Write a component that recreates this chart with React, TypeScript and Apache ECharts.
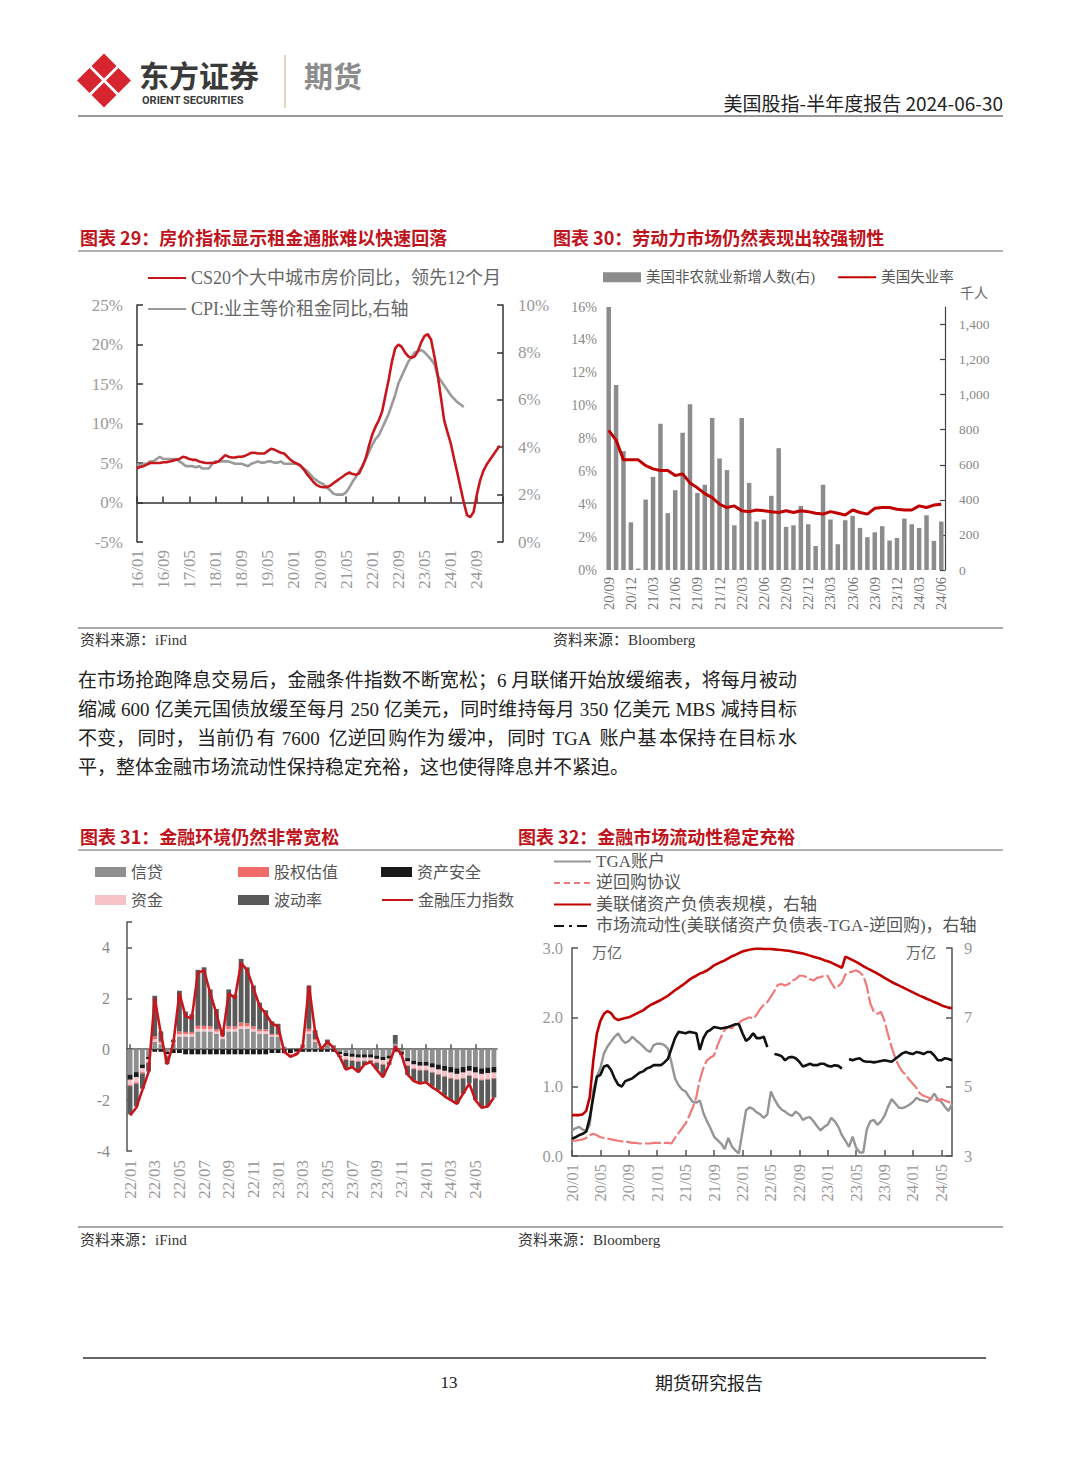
import React, { useEffect, useRef } from "react";
import * as echarts from "echarts";

const SERIF = "'Liberation Serif', 'Noto Sans CJK SC', serif";
const SANS = "'Noto Sans CJK SC', 'Noto Sans', sans-serif";

function monthLabels(startY: number, startM: number, count: number, perMonth = 1): string[] {
  const out: string[] = [];
  for (let k = 0; k < count; k++) {
    const total = startM - 1 + Math.floor(k / perMonth);
    const y = startY + Math.floor(total / 12);
    const m = (total % 12) + 1;
    out.push(`${String(y).slice(2)}/${String(m).padStart(2, "0")}`);
  }
  return out;
}

// ---------- Chart 29 ----------
const months29 = monthLabels(2016, 1, 113);
const N29A = "CS20个大中城市房价同比，领先12个月";
const N29B = "CPI:业主等价租金同比,右轴";
const cs20Lead = [
  4.3, 4.5, 4.6, 4.8, 5.0, 5.0, 5.0, 5.0, 5.1, 5.1,
  5.2, 5.3, 5.4, 5.5, 5.8, 5.7, 5.5, 5.4, 5.4, 5.2,
  5.1, 5.0, 5.0, 5.0, 5.05, 5.2, 5.6, 6.0, 5.8, 5.7,
  5.7, 5.8, 5.8, 5.9, 6.1, 6.3, 6.3, 6.2, 6.2, 6.2,
  6.5, 6.8, 6.7, 6.5, 6.3, 6.2, 5.8, 5.4, 5.1, 4.9,
  4.7, 4.2, 3.6, 3.1, 2.6, 2.2, 2.0, 1.95, 1.95, 2.1,
  2.4, 2.7, 3.0, 3.3, 3.6, 3.8, 3.6, 3.5, 3.7, 4.6,
  5.6, 7.2, 8.6, 9.6, 10.4, 11.5, 13.5, 15.5, 17.8, 19.5,
  20.0, 19.7, 19.0, 18.5, 18.3, 18.5, 19.2, 20.3, 21.1, 21.3,
  20.6, 18.5, 16.2, 13.3, 10.4, 8.9, 7.5, 5.6, 3.8, 1.9,
  0.0, -1.6, -1.85, -1.2, 1.0, 2.8, 4.0, 4.8, 5.4, 6.0,
  6.6, 7.2,
];
const oerCpi = [
  3.3, 3.2, 3.3, 3.3, 3.4, 3.4, 3.5, 3.6, 3.5, 3.5,
  3.5, 3.5, 3.5, 3.4, 3.3, 3.2, 3.2, 3.2, 3.15, 3.2,
  3.1, 3.1, 3.1, 3.3, 3.4, 3.4, 3.4, 3.4, 3.4, 3.35,
  3.3, 3.3, 3.3, 3.25, 3.2, 3.3, 3.35, 3.4, 3.35, 3.35,
  3.4, 3.4, 3.35, 3.35, 3.4, 3.3, 3.3, 3.3, 3.3, 3.3,
  3.2, 3.1, 3.0, 2.85, 2.7, 2.6, 2.5, 2.45, 2.3, 2.2,
  2.05, 2.0, 2.0, 2.0, 2.1, 2.3, 2.55, 2.75, 3.0, 3.2,
  3.5, 3.8, 4.1, 4.35, 4.5, 4.8, 5.1, 5.4, 5.8, 6.2,
  6.7, 7.0, 7.3, 7.6, 7.8, 8.0, 8.05, 8.1, 8.0, 7.85,
  7.7, 7.5, 7.0, 6.8, 6.6, 6.4, 6.2, 6.05, 5.9, 5.8,
  5.7,
];

// ---------- Chart 30 ----------
const months30 = monthLabels(2020, 9, 46);
const N30A = "美国非农就业新增人数(右)";
const N30B = "美国失业率";
const nfpAdds = [
  1501, 1055, 678, 272, 8, 402, 531, 834, 324, 455,
  783, 945, 440, 486, 867, 636, 570, 255, 867, 497,
  276, 288, 423, 695, 246, 255, 366, 261, 137, 486,
  288, 147, 284, 309, 240, 187, 215, 250, 168, 183,
  293, 261, 240, 312, 166, 276,
];
const unemployment = [
  8.5, 7.9, 6.7, 6.7, 6.7, 6.35, 6.15, 6.05, 6.05, 5.75,
  5.85, 5.3, 5.0, 4.65, 4.4, 4.0, 3.8, 3.9, 3.6, 3.55,
  3.65, 3.6, 3.55, 3.5, 3.6, 3.5, 3.6, 3.55, 3.45, 3.4,
  3.55, 3.45, 3.35, 3.65, 3.5, 3.4, 3.75, 3.8, 3.8, 3.7,
  3.65, 3.65, 3.9, 3.8, 3.95, 4.0,
];

// ---------- Chart 31 ----------
const halfMonths31 = monthLabels(2022, 1, 60, 2);
const fciCredit = [
  -1.0, -0.9, -0.6, -0.3, 0.3, 0.2, -0.1, 0.2, 0.5, 0.5,
  0.5, 0.7, 0.7, 0.7, 0.6, 0.4, 0.7, 0.7, 0.8, 0.8,
  0.7, 0.6, 0.6, 0.5, 0.5, 0.1, 0.0, 0.0, 0.1, 0.6,
  0.3, 0.1, 0.2, 0.1, -0.1, -0.15, -0.17, -0.2, -0.2, -0.2,
  -0.25, -0.3, -0.25, 0.2, -0.1, -0.35, -0.45, -0.5, -0.5, -0.55,
  -0.6, -0.65, -0.7, -0.75, -0.7, -0.65, -0.7, -0.75, -0.72, -0.7,
];
const fciEquity = [
  -0.05, -0.05, -0.05, -0.03, 0.1, 0.05, -0.03, 0.03, 0.1, 0.08,
  0.08, 0.12, 0.12, 0.1, 0.08, 0.03, 0.1, 0.1, 0.15, 0.12,
  0.1, 0.08, 0.08, 0.05, 0.05, 0.0, -0.03, 0.0, 0.03, 0.1,
  0.05, 0.0, 0.03, 0.0, -0.01, -0.03, -0.03, -0.03, -0.02, -0.02,
  -0.03, -0.03, -0.02, 0.01, 0.0, -0.03, -0.03, -0.03, -0.03, -0.03,
  -0.03, -0.03, -0.03, -0.03, -0.03, -0.02, -0.03, -0.03, -0.03, -0.03,
];
const fciSafe = [
  -0.2, -0.2, -0.15, -0.1, -0.1, -0.1, -0.1, -0.15, -0.15, -0.2,
  -0.2, -0.2, -0.2, -0.2, -0.2, -0.2, -0.2, -0.2, -0.2, -0.2,
  -0.2, -0.2, -0.2, -0.15, -0.15, -0.15, -0.15, -0.1, -0.1, -0.1,
  -0.1, -0.1, -0.1, -0.1, -0.1, -0.12, -0.13, -0.13, -0.13, -0.13,
  -0.13, -0.13, -0.12, -0.1, -0.12, -0.13, -0.15, -0.15, -0.15, -0.17,
  -0.2, -0.2, -0.22, -0.22, -0.22, -0.2, -0.22, -0.22, -0.22, -0.22,
];
const fciFunding = [
  -0.2, -0.2, -0.15, -0.1, 0.1, 0.05, -0.05, 0.05, 0.1, 0.1,
  0.1, 0.1, 0.1, 0.1, 0.1, 0.1, 0.1, 0.1, 0.1, 0.1,
  0.1, 0.1, 0.1, 0.05, 0.05, -0.05, -0.05, -0.05, 0.0, 0.1,
  0.05, 0.0, 0.0, 0.0, -0.05, -0.12, -0.13, -0.13, -0.12, -0.1,
  -0.13, -0.15, -0.12, -0.05, -0.08, -0.15, -0.15, -0.15, -0.15, -0.17,
  -0.17, -0.2, -0.2, -0.2, -0.2, -0.17, -0.2, -0.22, -0.22, -0.2,
];
const fciVol = [
  -1.1, -0.9, -0.6, -0.35, 1.6, 0.4, -0.3, 0.1, 1.6, 0.8,
  0.7, 2.2, 2.3, 1.45, 0.8, 0.2, 1.45, 1.25, 2.5, 2.2,
  1.6, 1.05, 0.75, 0.5, 0.4, 0.0, -0.05, -0.05, 0.05, 1.7,
  0.35, 0.0, 0.15, 0.05, -0.05, -0.35, -0.25, -0.4, -0.15, -0.05,
  -0.25, -0.45, -0.1, 0.35, 0.05, -0.35, -0.45, -0.5, -0.45, -0.55,
  -0.6, -0.75, -0.85, -0.95, -0.6, -0.3, -0.85, -1.05, -1.05, -0.75,
];
const fciIndex = [
  -2.6, -2.3, -1.6, -0.9, 2.0, 0.6, -0.6, 0.2, 2.2, 1.3,
  1.2, 3.0, 3.1, 2.2, 1.4, 0.5, 2.2, 2.0, 3.4, 3.1,
  2.4, 1.7, 1.4, 1.0, 0.9, -0.1, -0.3, -0.2, 0.1, 2.5,
  0.7, 0.0, 0.3, 0.05, -0.3, -0.8, -0.7, -0.9, -0.6, -0.5,
  -0.8, -1.1, -0.6, 0.1, -0.2, -1.0, -1.25, -1.35, -1.3, -1.5,
  -1.65, -1.85, -2.0, -2.15, -1.75, -1.35, -2.0, -2.3, -2.25, -1.9,
];

// ---------- Chart 32 ----------
const halfMonths32 = monthLabels(2020, 1, 108, 2);
const tgaAccount = [
  0.37, 0.40, 0.42, 0.38, 0.36, 0.45, 0.95, 1.15, 1.27, 1.48,
  1.58, 1.65, 1.72, 1.77, 1.68, 1.63, 1.66, 1.72, 1.67, 1.63,
  1.58, 1.53, 1.5, 1.6, 1.62, 1.62, 1.6, 1.55, 1.35, 1.12,
  1.02, 0.96, 0.93, 0.85, 0.78, 0.77, 0.8, 0.62, 0.5, 0.4,
  0.28, 0.23, 0.18, 0.1, 0.26, 0.14, 0.08, 0.04, 0.35, 0.66,
  0.7, 0.68, 0.63, 0.6, 0.55, 0.6, 0.93, 0.82, 0.73, 0.67,
  0.64, 0.6, 0.58, 0.64, 0.6, 0.52, 0.55, 0.56, 0.5, 0.43,
  0.37, 0.42, 0.45, 0.55, 0.5, 0.42, 0.3, 0.22, 0.13, 0.28,
  0.12, 0.05, 0.05, 0.38, 0.5, 0.52, 0.45, 0.5, 0.58, 0.71,
  0.82, 0.76, 0.7, 0.69, 0.71, 0.74, 0.78, 0.84, 0.81, 0.8,
  0.78, 0.82, 0.9, 0.82, 0.78, 0.71, 0.65, 0.75,
];
const reverseRepo = [
  0.22, 0.22, 0.23, 0.24, 0.26, 0.3, 0.32, 0.3, 0.27, 0.26,
  0.25, 0.24, 0.23, 0.22, 0.21, 0.21, 0.2, 0.19, 0.19, 0.18,
  0.18, 0.18, 0.18, 0.19, 0.19, 0.19, 0.19, 0.19, 0.18, 0.26,
  0.33, 0.4, 0.47, 0.58, 0.7, 0.85, 1.1, 1.27, 1.38, 1.42,
  1.45, 1.6, 1.72, 1.82, 1.86, 1.84, 1.9, 1.92, 1.96, 1.98,
  2.0, 1.98, 2.04, 2.12, 2.18, 2.22, 2.3, 2.38, 2.47, 2.48,
  2.46, 2.48, 2.53, 2.55, 2.6, 2.6, 2.58, 2.55, 2.53, 2.57,
  2.58, 2.6, 2.6, 2.5, 2.42, 2.45, 2.5, 2.62, 2.65, 2.66,
  2.68, 2.65, 2.6, 2.45, 2.2, 2.08, 2.05, 2.08, 1.95, 1.75,
  1.57, 1.42, 1.3, 1.22, 1.17, 1.1, 1.04, 0.98, 0.9, 0.87,
  0.85, 0.83, 0.82, 0.8, 0.82, 0.8, 0.78, 0.76,
];
const fedBalance = [
  4.18, 4.18, 4.18, 4.2, 4.3, 4.7, 5.76, 6.53, 6.9, 7.1,
  7.18, 7.12, 6.98, 6.92, 6.95, 6.98, 7.0, 7.05, 7.1, 7.15,
  7.2, 7.28, 7.35, 7.4, 7.45, 7.5, 7.56, 7.62, 7.7, 7.78,
  7.85, 7.92, 8.0, 8.08, 8.15, 8.2, 8.26, 8.3, 8.35, 8.42,
  8.5, 8.55, 8.6, 8.64, 8.7, 8.76, 8.8, 8.85, 8.9, 8.93,
  8.95, 8.97, 8.98, 8.98, 8.97, 8.97, 8.97, 8.96, 8.95, 8.94,
  8.93, 8.92, 8.9, 8.88, 8.86, 8.84, 8.81, 8.78, 8.75, 8.72,
  8.69, 8.65, 8.62, 8.58, 8.53, 8.48, 8.43, 8.75, 8.7, 8.65,
  8.6, 8.54, 8.48, 8.42, 8.37, 8.32, 8.26, 8.2, 8.14, 8.08,
  8.02, 7.97, 7.92, 7.87, 7.82, 7.77, 7.72, 7.67, 7.62, 7.58,
  7.53, 7.49, 7.44, 7.4, 7.35, 7.31, 7.28, 7.26,
];
const marketLiquidity = [
  3.5, 3.54, 3.6, 3.64, 3.7, 4.1, 4.7, 5.28, 5.34, 5.58,
  5.62, 5.48, 5.24, 5.06, 5.0, 5.16, 5.2, 5.24, 5.32, 5.4,
  5.44, 5.52, 5.56, 5.62, 5.62, 5.62, 5.7, 5.8, 6.1, 6.4,
  6.58, 6.56, 6.54, 6.58, 6.56, 6.54, 6.06, 6.4, 6.58, 6.64,
  6.72, 6.7, 6.68, 6.7, 6.72, 6.76, 6.8, 6.8, 6.54, 6.32,
  6.4, 6.54, 6.4, 6.4, 6.44, 6.14, null, 5.94, 5.92, 5.88,
  5.76, 5.84, 5.86, 5.82, 5.72, 5.58, 5.62, 5.66, 5.62, 5.62,
  5.66, 5.66, 5.6, 5.58, 5.62, 5.6, 5.52, null, 5.8, 5.76,
  5.8, 5.82, 5.74, 5.72, 5.72, 5.7, 5.72, 5.74, 5.76, 5.74,
  5.72, 5.8, 5.88, 5.96, 6.0, 5.96, 5.94, 6.0, 5.98, 5.94,
  6.0, 6.0, 5.9, 5.76, 5.76, 5.82, 5.8, 5.76,
];

const paragraph = [
  "在市场抢跑降息交易后，金融条件指数不断宽松；6 月联储开始放缓缩表，将每月被动",
  "缩减 600 亿美元国债放缓至每月 250 亿美元，同时维持每月 350 亿美元 MBS 减持目标",
  "不变，同时，当前仍有 7600 亿逆回购作为缓冲，同时 TGA 账户基本保持在目标水",
  "平，整体金融市场流动性保持稳定充裕，这也使得降息并不紧迫。",
];

function paragraphElements(): any[] {
  const fs = 19;
  const ctx = document.createElement("canvas").getContext("2d") as CanvasRenderingContext2D;
  ctx.font = `${fs}px ${SERIF}`;
  const els: any[] = [];
  const isAscii = (c: string) => /[A-Za-z0-9]/.test(c);
  const isPunct = (c: string) => "，；。、".includes(c);
  paragraph.forEach((line, li) => {
    const y = 680 + li * 29;
    const chars = Array.from(line);
    const natural = ctx.measureText(line).width;
    const justify = li < paragraph.length - 1;
    const extra = justify ? Math.max(0, (719 - natural) / (chars.length - 1)) : 0;
    const chunks: [number, string][] = [];
    let start = 0;
    let buf = "";
    chars.forEach((ch, i) => {
      buf += ch;
      const next = i + 1 < chars.length ? chars[i + 1] : "";
      const last = i === chars.length - 1;
      const breakHere =
        last ||
        (!isPunct(next) &&
          (isPunct(ch) || ch === " " || (buf.length >= 3 && !isAscii(ch) && !isAscii(next) && next !== " ")));
      if (breakHere) {
        chunks.push([start, buf]);
        start = i + 1;
        buf = "";
      }
    });
    chunks.forEach(([k, t]) => {
      const x = 78 + ctx.measureText(chars.slice(0, k).join("")).width + k * extra;
      els.push({
        type: "text", x, y,
        style: { text: t, fontSize: fs, fontFamily: SERIF, fill: "#222", align: "left", verticalAlign: "middle" },
      });
    });
  });
  return els;
}

function diamond(cx: number, cy: number, a: number) {
  return {
    type: "polygon",
    shape: { points: [[cx, cy - a], [cx + a, cy], [cx, cy + a], [cx - a, cy]] },
    style: { fill: "#d7252f" },
  };
}

function txt(x: number, y: number, text: string, size: number, fill: string, extra: any = {}) {
  return {
    type: "text", x, y,
    style: { text, fontSize: size, fontFamily: SERIF, fill, align: "left", verticalAlign: "middle", ...extra },
  };
}

function hline(x1: number, x2: number, y: number, stroke: string, w: number) {
  return { type: "line", shape: { x1, y1: y, x2, y2: y }, style: { stroke, lineWidth: w } };
}

function buildOption() {
  const axisDark = { color: "#333", width: 1.5 };
  const greyLabel = (size: number, color = "#999", extra: any = {}) => ({ color, fontSize: size, fontFamily: SERIF, ...extra });
  const noSymbol = { opacity: 0 };

  const titleStyle = { fontWeight: "bold", fontFamily: SANS };
  const graphics: any[] = [
    diamond(104, 66, 12.5), diamond(118.5, 80.5, 12.5), diamond(104, 95, 12.5), diamond(89.5, 80.5, 12.5),
    txt(139, 74, "东方证券", 30, "#3a3a3a", { fontWeight: "bold", fontFamily: SANS }),
    txt(142, 100.5, "ORIENT SECURITIES", 11, "#3a3a3a", { fontWeight: "bold", fontFamily: "Roboto, 'Liberation Sans', sans-serif" }),
    { type: "line", shape: { x1: 285, y1: 55, x2: 285, y2: 108 }, style: { stroke: "#d8c9a6", lineWidth: 1.5 } },
    txt(304, 75, "期货", 29, "#8c8c8c", { fontWeight: "bold", fontFamily: SANS }),
    txt(1003, 102, "美国股指-半年度报告 2024-06-30", 19, "#222", { align: "right", fontFamily: SANS }),
    hline(78, 1003, 116, "#777", 1.5),

    txt(80, 237, "图表 29：房价指标显示租金通胀难以快速回落", 18, "#c0141c", titleStyle),
    txt(553, 237, "图表 30：劳动力市场仍然表现出较强韧性", 18, "#c0141c", titleStyle),
    hline(78, 1003, 251, "#666", 1.2),
    txt(974, 293, "千人", 14, "#666", { align: "center" }),
    hline(78, 1003, 628, "#555", 1.2),
    txt(80, 640, "资料来源：iFind", 15, "#333"),
    txt(553, 640, "资料来源：Bloomberg", 15, "#333"),

    ...paragraphElements(),

    txt(80, 836, "图表 31：金融环境仍然非常宽松", 18, "#c0141c", titleStyle),
    txt(518, 836, "图表 32：金融市场流动性稳定充裕", 18, "#c0141c", titleStyle),
    hline(78, 1003, 850, "#666", 1.2),
    txt(592, 953, "万亿", 15, "#666"),
    txt(936, 953, "万亿", 15, "#666", { align: "right" }),
    hline(78, 1003, 1227, "#555", 1.2),
    txt(80, 1240, "资料来源：iFind", 15, "#333"),
    txt(518, 1240, "资料来源：Bloomberg", 15, "#333"),

    hline(83, 986, 1358, "#333", 1.5),
    txt(449, 1382, "13", 17, "#222", { align: "center" }),
    txt(655, 1382, "期货研究报告", 18, "#222", { fontFamily: SANS }),
  ];

  const legend31 = (name: string, x: number, y: number, icon?: string) => ({
    left: x, top: y - 9, padding: 0, itemWidth: 31, itemHeight: 10,
    data: [icon ? { name, icon } : { name, itemStyle: noSymbol }],
    textStyle: { color: "#555", fontSize: 16, fontFamily: SERIF },
  });

  return {
    animation: false,
    backgroundColor: "#ffffff",
    textStyle: { fontFamily: SERIF },
    grid: [
      { left: 137, top: 305, width: 366, height: 237, outerBoundsMode: "none" },
      { left: 605, top: 307, width: 340, height: 263, outerBoundsMode: "none" },
      { left: 127, top: 922, width: 370, height: 229, outerBoundsMode: "none" },
      { left: 572, top: 948, width: 380, height: 208, outerBoundsMode: "none" },
    ],
    xAxis: [
      {
        gridIndex: 0, type: "category", data: months29, boundaryGap: false, position: "bottom",
        axisLine: { show: false, onZero: false }, axisTick: { show: false },
        axisLabel: { ...greyLabel(17), rotate: 90, margin: 8, interval: (i: number) => i % 8 === 0 && i < 112 },
        splitLine: { show: false },
      },
      {
        gridIndex: 0, type: "category", data: months29, boundaryGap: false, position: "bottom",
        axisLine: { show: true, onZero: true, onZeroAxisIndex: 0, lineStyle: axisDark },
        axisTick: { show: true, inside: true, length: 6, interval: (i: number) => i % 8 === 0, lineStyle: axisDark },
        axisLabel: { show: false }, splitLine: { show: false },
      },
      {
        gridIndex: 1, type: "category", data: months30, boundaryGap: true, position: "bottom",
        axisLine: { show: false }, axisTick: { show: false },
        axisLabel: { ...greyLabel(14.5, "#777"), rotate: 90, margin: 7, interval: 2 },
        splitLine: { show: false },
      },
      {
        gridIndex: 2, type: "category", data: halfMonths31, boundaryGap: true, position: "bottom",
        axisLine: { show: false, onZero: false }, axisTick: { show: false },
        axisLabel: { ...greyLabel(17), rotate: 90, margin: 9, interval: (i: number) => i % 4 === 0 },
        splitLine: { show: false },
      },
      {
        gridIndex: 2, type: "category", data: halfMonths31, boundaryGap: true, position: "bottom",
        axisLine: { show: true, onZero: true, onZeroAxisIndex: 4, lineStyle: { color: "#555", width: 1.5 } },
        axisTick: { show: true, inside: true, length: 5, alignWithLabel: true, interval: (i: number) => i % 4 === 0, lineStyle: { color: "#555", width: 1.5 } },
        axisLabel: { show: false }, splitLine: { show: false },
      },
      {
        gridIndex: 3, type: "category", data: halfMonths32, boundaryGap: false, position: "bottom",
        axisLine: { show: true, onZero: false, lineStyle: { color: "#555", width: 1.5 } },
        axisTick: { show: true, inside: true, length: 6, interval: (i: number) => i % 8 === 0, lineStyle: { color: "#555", width: 1.5 } },
        axisLabel: { ...greyLabel(16.5), rotate: 90, margin: 8, interval: (i: number) => i % 8 === 0 },
        splitLine: { show: false },
      },
    ],
    yAxis: [
      {
        gridIndex: 0, type: "value", position: "left", min: -5, max: 25, interval: 5,
        axisLine: { show: true, lineStyle: axisDark }, axisTick: { show: true, inside: true, length: 6, lineStyle: axisDark },
        axisLabel: { ...greyLabel(17), formatter: "{value}%", margin: 14 }, splitLine: { show: false },
      },
      {
        gridIndex: 0, type: "value", position: "right", min: 0, max: 10, interval: 2,
        axisLine: { show: true, lineStyle: axisDark }, axisTick: { show: true, inside: true, length: 6, lineStyle: axisDark },
        axisLabel: { ...greyLabel(17), formatter: "{value}%", margin: 15 }, splitLine: { show: false },
      },
      {
        gridIndex: 1, type: "value", position: "left", min: 0, max: 16, interval: 2,
        axisLine: { show: false }, axisTick: { show: false },
        axisLabel: { ...greyLabel(14, "#888"), formatter: "{value}%", margin: 8 }, splitLine: { show: false },
      },
      {
        gridIndex: 1, type: "value", position: "right", min: 0, max: 1500, interval: 200,
        axisLine: { show: true, lineStyle: { color: "#444", width: 1.2 } },
        axisTick: { show: true, inside: true, length: 5, lineStyle: { color: "#444", width: 1.2 } },
        axisLabel: {
          ...greyLabel(13.5, "#888"), margin: 14, showMaxLabel: false,
          formatter: (v: number) => (v >= 1500 ? "" : v.toLocaleString("en-US")),
        },
        splitLine: { show: false },
      },
      {
        gridIndex: 2, type: "value", position: "left", min: -4, max: 5, interval: 2,
        axisLine: { show: true, lineStyle: { color: "#555", width: 1.5 } },
        axisTick: { show: true, inside: true, length: 5, lineStyle: { color: "#555", width: 1.5 } },
        axisLabel: { ...greyLabel(16, "#888"), margin: 17, formatter: (v: number) => (v === 5 ? "" : String(v)) },
        splitLine: { show: false },
      },
      {
        gridIndex: 3, type: "value", position: "left", min: 0, max: 3, interval: 1,
        axisLine: { show: true, lineStyle: { color: "#555", width: 1.5 } },
        axisTick: { show: true, inside: true, length: 6, lineStyle: { color: "#555", width: 1.5 } },
        axisLabel: { ...greyLabel(16.5), margin: 9, formatter: (v: number) => v.toFixed(1) },
        splitLine: { show: false },
      },
      {
        gridIndex: 3, type: "value", position: "right", min: 3, max: 9, interval: 2,
        axisLine: { show: true, lineStyle: { color: "#555", width: 1.5 } },
        axisTick: { show: true, inside: true, length: 6, lineStyle: { color: "#555", width: 1.5 } },
        axisLabel: { ...greyLabel(16.5), margin: 12 },
        splitLine: { show: false },
      },
    ],
    legend: [
      {
        left: 147, top: 269, orient: "vertical", padding: 0, itemWidth: 38, itemHeight: 14, itemGap: 13,
        itemStyle: noSymbol,
        data: [N29A, N29B], textStyle: { color: "#666", fontSize: 18, fontFamily: SERIF },
      },
      {
        left: 603, top: 270, orient: "horizontal", padding: 0, itemWidth: 38, itemHeight: 10, itemGap: 22,
        data: [{ name: N30A, icon: "rect" }, { name: N30B, itemStyle: noSymbol }],
        textStyle: { color: "#555", fontSize: 14.5, fontFamily: SERIF },
      },
      legend31("信贷", 95, 873, "rect"),
      legend31("股权估值", 238, 873, "rect"),
      legend31("资产安全", 381, 873, "rect"),
      legend31("资金", 95, 901, "rect"),
      legend31("波动率", 238, 901, "rect"),
      legend31("金融压力指数", 381, 901),
      {
        left: 553, top: 853, orient: "vertical", padding: 0, itemWidth: 37, itemHeight: 14, itemGap: 4.5,
        itemStyle: noSymbol,
        data: [
          "TGA账户",
          { name: "逆回购协议", lineStyle: { type: [6, 4] } },
          "美联储资产负债表规模，右轴",
          { name: "市场流动性(美联储资产负债表-TGA-逆回购)，右轴", lineStyle: { type: [10, 5, 3, 5] } },
        ],
        textStyle: { color: "#555", fontSize: 17, fontFamily: SERIF },
      },
    ],
    series: [
      {
        name: N29A, type: "line", xAxisIndex: 0, yAxisIndex: 0, data: cs20Lead, symbol: "none",
        lineStyle: { color: "#c8161d", width: 2.6 }, itemStyle: { color: "#c8161d" }, z: 4,
      },
      {
        name: N29B, type: "line", xAxisIndex: 0, yAxisIndex: 1, data: oerCpi, symbol: "none",
        lineStyle: { color: "#9a9a9a", width: 2.6 }, itemStyle: { color: "#9a9a9a" }, z: 3,
      },
      {
        name: N30A, type: "bar", xAxisIndex: 2, yAxisIndex: 3, data: nfpAdds, barWidth: 4.5,
        itemStyle: { color: "#8c8c8c" },
      },
      {
        name: N30B, type: "line", xAxisIndex: 2, yAxisIndex: 2, data: unemployment, symbol: "none",
        lineStyle: { color: "#c00000", width: 3 }, itemStyle: { color: "#c00000" }, z: 4,
      },
      { name: "信贷", type: "bar", xAxisIndex: 3, yAxisIndex: 4, stack: "fci", data: fciCredit, barCategoryGap: "22%", itemStyle: { color: "#8f8f8f" } },
      { name: "资产安全", type: "bar", xAxisIndex: 3, yAxisIndex: 4, stack: "fci", data: fciSafe, itemStyle: { color: "#1a1a1a" } },
      { name: "资金", type: "bar", xAxisIndex: 3, yAxisIndex: 4, stack: "fci", data: fciFunding, itemStyle: { color: "#f7c3c8" } },
      { name: "股权估值", type: "bar", xAxisIndex: 3, yAxisIndex: 4, stack: "fci", data: fciEquity, itemStyle: { color: "#f26b6b" } },
      { name: "波动率", type: "bar", xAxisIndex: 3, yAxisIndex: 4, stack: "fci", data: fciVol, itemStyle: { color: "#5a5a5a" } },
      {
        name: "金融压力指数", type: "line", xAxisIndex: 3, yAxisIndex: 4, data: fciIndex, symbol: "none",
        lineStyle: { color: "#c8161d", width: 2.6 }, itemStyle: { color: "#c8161d" }, z: 5,
      },
      {
        name: "TGA账户", type: "line", xAxisIndex: 5, yAxisIndex: 5, data: tgaAccount, symbol: "none",
        lineStyle: { color: "#959595", width: 2.4 }, itemStyle: { color: "#959595" },
      },
      {
        name: "逆回购协议", type: "line", xAxisIndex: 5, yAxisIndex: 5, data: reverseRepo, symbol: "none",
        lineStyle: { color: "#f07a7a", width: 2.2, type: [16, 3] }, itemStyle: { color: "#f07a7a" },
      },
      {
        name: "美联储资产负债表规模，右轴", type: "line", xAxisIndex: 5, yAxisIndex: 6, data: fedBalance, symbol: "none",
        lineStyle: { color: "#c00000", width: 2.6 }, itemStyle: { color: "#c00000" },
      },
      {
        name: "市场流动性(美联储资产负债表-TGA-逆回购)，右轴", type: "line", xAxisIndex: 5, yAxisIndex: 6,
        data: marketLiquidity, symbol: "none", connectNulls: false,
        lineStyle: { color: "#111", width: 2.6 }, itemStyle: { color: "#111" },
      },
    ],
    graphic: { elements: graphics },
  };
}

export default function App() {
  const ref = useRef<HTMLDivElement>(null);
  useEffect(() => {
    if (!ref.current) return;
    const chart = echarts.init(ref.current, null, { renderer: "svg" });
    chart.setOption(buildOption() as any);
    return () => chart.dispose();
  }, []);
  return (
    <div
      ref={ref}
      style={{ position: "absolute", left: 0, top: 0, width: 1080, height: 1465, background: "#fff" }}
    />
  );
}
